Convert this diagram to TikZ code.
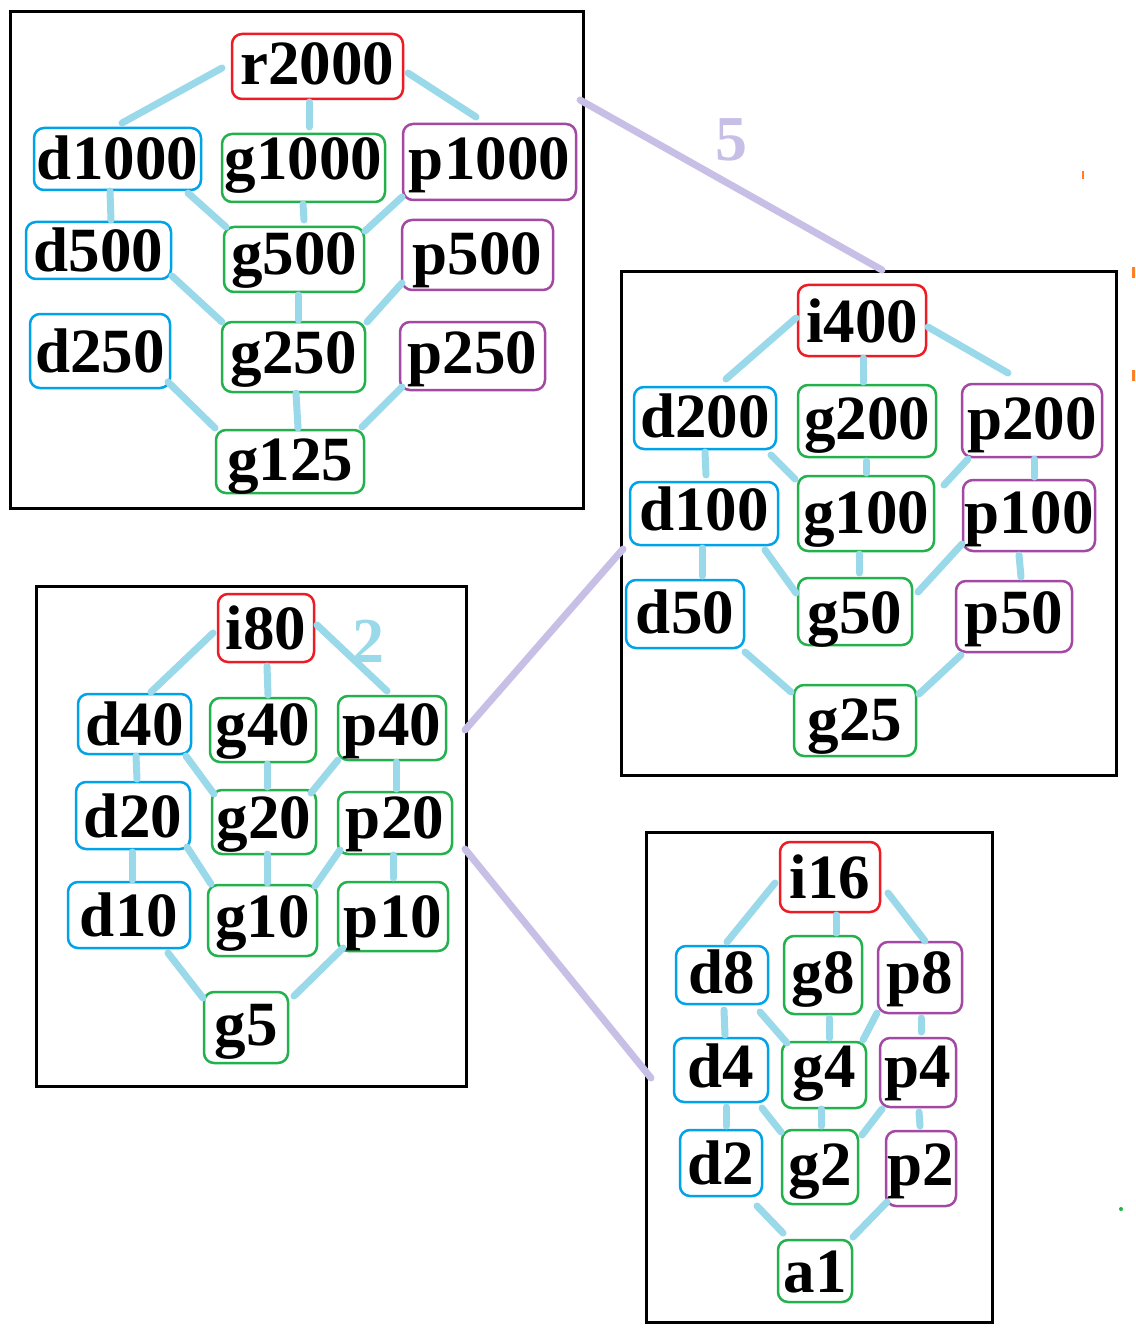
\documentclass[tikz,border=0pt]{standalone}
\usepackage{fontspec}
\setmainfont{Liberation Serif}
\definecolor{cblue}{HTML}{00A2E8}
\definecolor{cgreen}{HTML}{22B14C}
\definecolor{cred}{HTML}{ED1C24}
\definecolor{cpurple}{HTML}{A349A4}
\definecolor{clink}{HTML}{99D9EA}
\definecolor{clav}{HTML}{C8BFE7}
\definecolor{corange}{HTML}{FF7F27}
\tikzset{
  bx/.style={draw=#1, rounded corners=10pt, line width=2.5pt, inner sep=0pt,
    text height=43pt, font=\fontsize{63}{70}\selectfont\bfseries},
  link/.style={draw=clink, line width=7pt, line cap=round},
  xlink/.style={draw=clav, line width=7pt, line cap=round},
  frm/.style={draw=black, line width=3pt, inner sep=0pt},
  wlabel/.style={inner sep=0pt, font=\fontsize{64}{70}\selectfont\bfseries},
}
% name, colour, x, y, width, height, text depth, text
\newcommand\nd[8]{\node[bx=#2, text depth=#7pt, minimum width=#5pt, minimum height=#6pt] (#1) at (#3,#4) {#8};}
\newcommand\lk[6]{\draw[link] ([shift={(#2,#3)}]#1.center) -- ([shift={(#5,#6)}]#4.center);}
\begin{document}
\begin{tikzpicture}[x=1pt,y=-1pt]
\useasboundingbox[fill=white] (0,0) rectangle (1135,1337);
% frames
\node[frm, minimum width=573pt, minimum height=496pt] (F1) at (296.5,260) {};
\node[frm, minimum width=495pt, minimum height=503pt] (F2) at (868.5,523.5) {};
\node[frm, minimum width=430pt, minimum height=500pt] (F3) at (251,836) {};
\node[frm, minimum width=346pt, minimum height=490pt] (F4) at (819,1077) {};
% links between frames
\draw[xlink] ([shift={(283.5,-160)}]F1.center) -- ([shift={(13.5,-253.5)}]F2.center);
\draw[xlink] ([shift={(214,-106)}]F3.center) -- ([shift={(-245.5,25.5)}]F2.center);
\draw[xlink] ([shift={(214,13)}]F3.center) -- ([shift={(-168,1)}]F4.center);
\node[wlabel, text=clav] (w5) at (731,140) {5};
\node[wlabel, text=clink] (w2) at (368,641) {2};
% box 1
\nd{r2000}{cred}{317.5}{66.5}{171}{65}{6}{r2000}
\nd{d1000}{cblue}{117.5}{159}{167}{62}{1}{d1000}
\nd{g1000}{cgreen}{303.5}{168}{163}{68}{20}{g1000}
\nd{p1000}{cpurple}{489.5}{162}{173}{76}{7}{p1000}
\nd{d500}{cblue}{98.5}{250.5}{145}{57}{0}{d500}
\nd{g500}{cgreen}{294}{259.5}{140}{65}{12}{g500}
\nd{p500}{cpurple}{477.5}{255}{151}{70}{3}{p500}
\nd{d250}{cblue}{100}{351}{140}{74}{0}{d250}
\nd{g250}{cgreen}{293.5}{357}{143}{70}{11}{g250}
\nd{p250}{cpurple}{472.5}{356}{145}{68}{9}{p250}
\nd{g125}{cgreen}{290}{461.5}{148}{63}{6}{g125}
\lk{r2000}{-95.5}{1.5}{d1000}{4.5}{-36}
\lk{r2000}{-8.5}{35.5}{g1000}{5.5}{-41}
\lk{r2000}{90.5}{6.5}{p1000}{-13.5}{-45}
\lk{d1000}{-7.5}{32}{d500}{12.5}{-30.5}
\lk{d1000}{70.5}{34}{g500}{-68}{-32.5}
\lk{g1000}{-0.5}{36}{g500}{10}{-39.5}
\lk{p1000}{-87.5}{35}{g500}{71}{-28.5}
\lk{d500}{73.5}{25.5}{g250}{-71.5}{-35}
\lk{g500}{4}{35.5}{g250}{4.5}{-37}
\lk{p500}{-75.5}{28}{g250}{73.5}{-35}
\lk{d250}{68}{31}{g125}{-75}{-33.5}
\lk{g250}{2.5}{36}{g125}{8}{-33.5}
\lk{p250}{-70.5}{31}{g125}{72}{-34.5}
% box 2
\nd{i400}{cred}{862}{320.5}{128}{71}{0}{i400}
\nd{d200}{cblue}{705}{418}{142}{62}{5}{d200}
\nd{g200}{cgreen}{867}{421}{138}{72}{7}{g200}
\nd{p200}{cpurple}{1032}{420.5}{140}{73}{6}{p200}
\nd{d100}{cblue}{704}{513.5}{148}{63}{10}{d100}
\nd{g100}{cgreen}{866}{513.5}{136}{75}{4}{g100}
\nd{p100}{cpurple}{1029}{515.5}{132}{71}{8}{p100}
\nd{d50}{cblue}{685}{614}{118}{68}{5}{d50}
\nd{g50}{cgreen}{855}{611.5}{114}{67}{0}{g50}
\nd{p50}{cpurple}{1014}{616.5}{116}{71}{10}{p50}
\nd{g25}{cgreen}{855}{720.5}{122}{71}{4}{g25}
\lk{i400}{-66}{-2.5}{d200}{21}{-39}
\lk{i400}{1}{37.5}{g200}{-4}{-39}
\lk{i400}{66}{6.5}{p200}{-24}{-47.5}
\lk{d200}{0}{34}{d100}{2}{-38.5}
\lk{d200}{66}{37}{g100}{-71}{-34.5}
\lk{g200}{-1}{40}{g100}{0}{-40.5}
\lk{p200}{-64}{38.5}{g100}{78}{-28.5}
\lk{p200}{2}{38.5}{p100}{5}{-38.5}
\lk{d100}{-2}{34.5}{d50}{17}{-38}
\lk{d100}{61}{36.5}{g50}{-59}{-18.5}
\lk{g100}{-7}{40.5}{g50}{4}{-38.5}
\lk{p100}{-67}{28.5}{g50}{63}{-19.5}
\lk{p100}{-10}{39.5}{p50}{7}{-39.5}
\lk{d50}{60}{38}{g25}{-64}{-28.5}
\lk{p50}{-53}{38.5}{g25}{64}{-26.5}
% box 3
\nd{i80}{cred}{266}{628}{96}{68}{0}{i80}
\nd{d40}{cblue}{134.5}{724}{113}{60}{1}{d40}
\nd{g40}{cgreen}{263}{730}{106}{64}{13}{g40}
\nd{p40}{cgreen}{392}{728}{108}{64}{9}{p40}
\nd{d20}{cblue}{133}{815.5}{114}{67}{0}{d20}
\nd{g20}{cgreen}{264}{822}{104}{64}{11}{g20}
\nd{p20}{cgreen}{395}{823}{114}{62}{13}{p20}
\nd{d10}{cblue}{129}{915}{122}{66}{0}{d10}
\nd{g10}{cgreen}{262.5}{920.5}{109}{71}{10}{g10}
\nd{p10}{cgreen}{393}{916.5}{110}{69}{2}{p10}
\nd{g5}{cgreen}{246}{1027.5}{84}{71}{8}{g5}
\lk{i80}{-53}{5}{d40}{16.5}{-32}
\lk{i80}{1}{38}{g40}{5}{-35}
\lk{i80}{51}{-3}{p40}{-5}{-37}
\lk{d40}{1.5}{32}{d20}{4}{-36.5}
\lk{d40}{51.5}{32}{g20}{-50}{-28}
\lk{g40}{4}{34}{g20}{3}{-35}
\lk{p40}{-54}{32}{g20}{47}{-29}
\lk{p40}{4}{34}{p20}{1}{-34}
\lk{d20}{-1}{36.5}{d10}{3}{-35}
\lk{d20}{54}{31.5}{g10}{-51.5}{-36.5}
\lk{g20}{3}{32}{g10}{4.5}{-37.5}
\lk{p20}{-55}{27}{g10}{52.5}{-34.5}
\lk{p20}{-2}{32}{p10}{0}{-38.5}
\lk{d10}{39}{38}{g5}{-43}{-29.5}
\lk{p10}{-50}{31.5}{g5}{48}{-31.5}
% box 4
\nd{i16}{cred}{830}{877}{100}{70}{1}{i16}
\nd{d8}{cblue}{722}{975}{92}{58}{7}{d8}
\nd{g8}{cgreen}{823}{975}{78}{78}{7}{g8}
\nd{p8}{cpurple}{920}{977.5}{84}{71}{12}{p8}
\nd{d4}{cblue}{721}{1070}{94}{64}{9}{d4}
\nd{g4}{cgreen}{824}{1075}{84}{66}{19}{g4}
\nd{p4}{cpurple}{918}{1072.5}{76}{69}{14}{p4}
\nd{d2}{cblue}{721}{1163}{82}{66}{0}{d2}
\nd{g2}{cgreen}{820}{1167}{76}{74}{7}{g2}
\nd{p2}{cpurple}{921}{1168.5}{70}{75}{10}{p2}
\nd{a1}{cgreen}{815}{1271}{74}{62}{1}{a1}
\lk{i16}{-55}{6}{d8}{5}{-33}
\lk{i16}{6}{38}{g8}{13}{-42}
\lk{i16}{58}{16}{p8}{5}{-36.5}
\lk{d8}{2}{35}{d4}{4}{-35}
\lk{d8}{38}{37}{g4}{-37}{-32}
\lk{g8}{6}{43}{g4}{5}{-37}
\lk{p8}{-43}{35.5}{g4}{39}{-35}
\lk{p8}{1}{40.5}{p4}{3}{-40.5}
\lk{d4}{5}{37}{d2}{5}{-37}
\lk{d4}{41}{38}{g2}{-39}{-35}
\lk{g4}{-3}{34}{g2}{1}{-41}
\lk{p4}{-36}{36.5}{g2}{42}{-32}
\lk{p4}{1}{39.5}{p2}{-1}{-42.5}
\lk{d2}{36}{43}{a1}{-32}{-38}
\lk{p2}{-34}{33.5}{a1}{38}{-34}
% stray marks
\fill[cgreen] (1121,1209) circle (2pt);
\fill[corange] (1082,171) rectangle (1084,179);
\fill[corange] (1132,267) rectangle (1135,278);
\fill[corange] (1132,370) rectangle (1135,381);
\end{tikzpicture}
\end{document}
